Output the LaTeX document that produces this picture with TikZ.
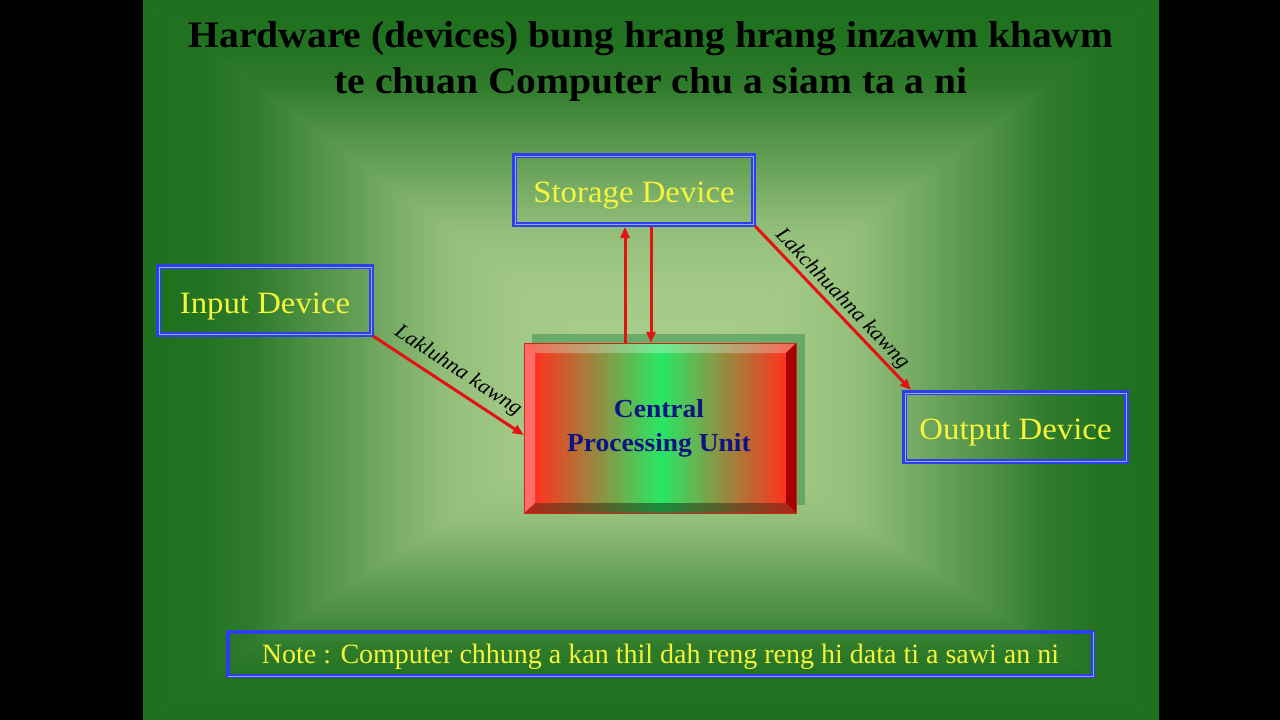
\documentclass[tikz,border=0pt]{standalone}
\usepackage{fontspec}
\setmainfont{Liberation Serif}[FakeStretch=1.058]
\newfontfamily\notefont{Liberation Serif}
\usetikzlibrary{arrows.meta,calc}
\definecolor{edgeg}{RGB}{30,112,30}
\definecolor{centg}{RGB}{172,207,142}
\definecolor{midg}{RGB}{100,158,85}
\definecolor{boxblue}{RGB}{45,62,235}
\definecolor{boxlight}{RGB}{150,165,255}
\definecolor{yellowt}{RGB}{245,245,60}
\definecolor{arrred}{RGB}{228,18,18}
\definecolor{navyt}{RGB}{15,20,130}
\definecolor{cpured}{RGB}{255,50,30}
\definecolor{cpugreen}{RGB}{40,232,100}
\definecolor{shadowg}{RGB}{60,145,80}
\pgfdeclarehorizontalshading{bgh}{100bp}{
  color(0bp)=(edgeg);
  color(25bp)=(edgeg);
  color(31bp)=(edgeg!97!centg);
  color(36bp)=(edgeg!88!centg);
  color(40.5bp)=(edgeg!70!centg);
  color(45.5bp)=(edgeg!52!centg);
  color(50bp)=(edgeg!35!centg);
  color(55bp)=(edgeg!17!centg);
  color(62.5bp)=(edgeg!6!centg);
  color(75bp)=(centg);
  color(100bp)=(centg)}
\tikzset{
  devbox/.style={draw=boxblue, line width=5pt, inner sep=0pt, text=yellowt,
    font=\fontsize{31}{36}\selectfont, text height=25pt, text depth=0pt},
  notebox/.style={draw=boxblue, line width=3pt, inner sep=0pt, text=yellowt,
    font=\notefont\fontsize{28}{32}\selectfont, text height=18pt, text depth=0pt},
  arr/.style={draw=arrred, line width=3pt, -{Triangle[length=11pt,width=9pt]}},
  lbl/.style={font=\itshape\fontsize{21}{24}\selectfont, text=black, inner sep=0pt,
    text depth=0pt},
  innerl/.style={draw=boxlight, line width=1pt},
  innerb/.style={draw=boxblue, line width=1.2pt},
  cputext/.style={anchor=base, text=navyt, font=\bfseries\fontsize{26}{34}\selectfont},
  titletext/.style={anchor=base, font=\bfseries\fontsize{37.4}{47}\selectfont},
}
\begin{document}
\begin{tikzpicture}[x=1pt,y=-1pt]
\useasboundingbox (0,0) rectangle (1280,720);
\fill[black] (0,0) rectangle (1280,720);
% slide background: rectangular gradient from centre
\coordinate (C) at (651,385);
\fill[midg] (143,0) rectangle (1159,720);
\shade[shading=bgh, shading angle=270] (143,0) -- (1159,0) -- (C) -- cycle;
\shade[shading=bgh, shading angle=90] (143,720) -- (1159,720) -- (C) -- cycle;
\shade[shading=bgh, shading angle=0] (143,0) -- (143,720) -- (C) -- cycle;
\shade[shading=bgh, shading angle=180] (1159,0) -- (1159,720) -- (C) -- cycle;

% title
\node[titletext] (t1) at (651,47) {Hardware (devices) bung hrang hrang inzawm khawm};
\node[titletext] (t2) at (651,93) {te chuan Computer chu a siam ta a ni};

% CPU block: shadow, bevels, face
\fill[shadowg, opacity=0.55] (532,334) rectangle (805,505);
\shade[left color=cpured, right color=cpured, middle color=cpugreen] (535,353) rectangle (786,503);
\shade[left color=cpured!75!white, right color=cpured!75!white, middle color=cpugreen!70!white]
  (524,343) -- (796,343) -- (786,353) -- (535,353) -- cycle;
\shade[left color=cpured!70!black, right color=cpured!70!black, middle color=cpugreen!60!black]
  (524,513) -- (796,513) -- (786,503) -- (535,503) -- cycle;
\fill[red!55!white!90!cpured] (524,343) -- (535,353) -- (535,503) -- (524,513) -- cycle;
\fill[red!65!black] (796,343) -- (786,353) -- (786,503) -- (796,513) -- cycle;
\draw[cpured!80!black, line width=0.8pt] (524,343) rectangle (796,513);
\node[minimum width=272pt, minimum height=170pt, inner sep=0pt] (cpu) at (660,428) {};
\node[cputext] (cpu1) at (659,417) {Central};
\node[cputext] (cpu2) at (659,451) {Processing Unit};

% device boxes
\node[devbox, minimum width=239pt, minimum height=69pt] (storage) at (634,190) {Storage Device};
\node[devbox, minimum width=213pt, minimum height=68pt] (input) at (265,300.5) {Input Device};
\node[devbox, minimum width=222pt, minimum height=69pt] (output) at (1015.5,427) {Output Device};
\node[notebox, minimum width=866pt, minimum height=45pt] (note) at (660.5,654)
  {Note : Computer chhung a kan thil dah reng reng hi data ti a sawi an ni};
\foreach \n/\a/\b in {storage/3/4.3, input/3/4.3, output/3/4.3, note/2/3}{
  \draw[innerl] ([xshift=\a pt,yshift=-\a pt]\n.north west) rectangle ([xshift=-\a pt,yshift=\a pt]\n.south east);
  \draw[innerb] ([xshift=\b pt,yshift=-\b pt]\n.north west) rectangle ([xshift=-\b pt,yshift=\b pt]\n.south east);
}

% connectors
\draw[arr] ([shift={(-1pt,1pt)}]input.south east) -- ([yshift=-7pt]cpu.west)
  node[lbl, midway, sloped, above=11pt] (l1) {Lakluhna kawng};
\draw[arr] ([shift={(-1pt,1pt)}]storage.south east) -- ([xshift=9pt]output.north west)
  node[lbl, midway, sloped, above=6pt] (l2) {Lakchhuahna kawng};
\draw[arr] ([xshift=-35pt]cpu.north) -- ([xshift=-35pt]cpu.north |- storage.south);
\draw[arr] ([xshift=-9pt]cpu.north |- storage.south) -- ([xshift=-9pt]cpu.north);
\end{tikzpicture}
\end{document}
